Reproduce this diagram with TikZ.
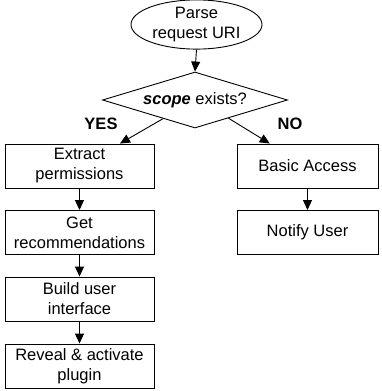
\documentclass[tikz,border=0pt]{standalone}
\usepackage{fontspec}
\setmainfont{Liberation Sans}
\usetikzlibrary{shapes.geometric,arrows.meta,calc}
\begin{document}
\begin{tikzpicture}[x=1pt,y=-1pt,
  every node/.style={font=\fontsize{16.5}{20}\selectfont, align=center, inner sep=0pt},
  box/.style={draw, line width=0.9pt, minimum height=44pt},
  lbox/.style={box, minimum width=149pt},
  rbox/.style={box, minimum width=141pt},
  arr/.style={line width=0.9pt, -{Triangle[length=10pt,width=9pt]}},
  lab/.style={font=\fontsize{16.5}{20}\selectfont\bfseries}
]
\useasboundingbox (0,0) rectangle (381,391);
\node[draw, ellipse, line width=0.9pt, minimum width=131pt, minimum height=43pt] (start) at (196.5,24.5) {Parse\\request URI};
\node[draw, diamond, aspect=3.3, line width=0.9pt, minimum width=185pt, minimum height=56pt] (dec) at (195,100) {\textbf{\textit{scope}} exists?};
\node[lbox] (e1) at (79.5,166) {Extract\\permissions};
\node[lbox] (e2) at (79.5,232.5) {Get\\recommendations};
\node[lbox] (e3) at (79.5,299) {Build user\\interface};
\node[lbox] (e4) at (79.5,366) {Reveal \& activate\\plugin};
\node[rbox] (b1) at (307.5,166) {Basic Access};
\node[rbox] (b2) at (307.5,232.5) {Notify User};
\node[lab] (yes) at (101,124) {YES};
\node[lab] (no) at (290,124) {NO};
\draw[arr] (start.south) -- (dec.north);
\draw[arr] ($(dec.west)!0.656!(dec.south)$) -- ($(e1.north west)!0.77!(e1.north east)$);
\draw[arr] ($(dec.south)!0.36!(dec.east)$) -- ($(b1.north west)!0.234!(b1.north east)$);
\draw[arr] (e1) -- (e2);
\draw[arr] (e2) -- (e3);
\draw[arr] (e3) -- (e4);
\draw[arr] (b1) -- (b2);
\end{tikzpicture}
\end{document}
